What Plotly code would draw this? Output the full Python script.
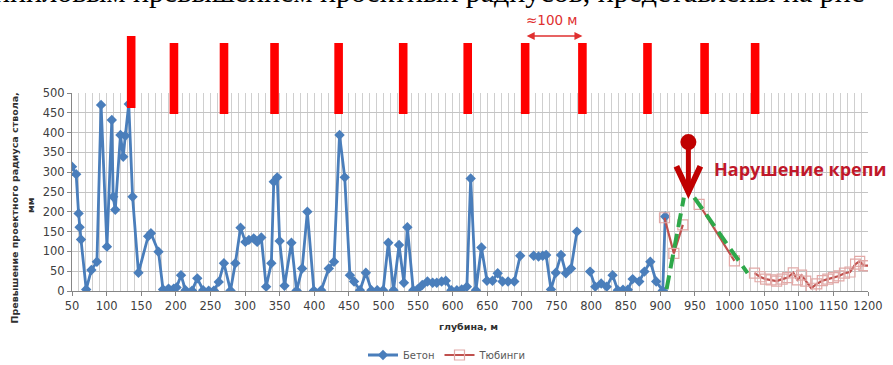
import plotly.graph_objects as go

# ---------------- data ----------------
beton_depth = [50, 56, 59.5, 61, 63, 70.5, 78, 86, 92, 100.5, 107.5, 109.5, 112.5, 120, 124, 127, 132, 137.5,
               146, 160, 164, 175, 181.5, 189.5, 197, 201, 207.5, 214, 223.5, 231, 239.5, 247.5, 255, 262,
               269.5, 279, 286, 293.5, 300.5, 305.5, 312.5, 317.5, 323.5, 330.5, 338, 341.5, 346.5, 350,
               357, 367, 374.5, 382.5, 390, 399.5, 410, 421, 428.5, 436.5, 444, 451.5, 457.5, 466, 474.5,
               482.5, 491, 499.5, 507, 514.5, 522.5, 529.5, 534.5, 543, 549, 556, 563.5, 571, 577, 584,
               590, 598, 606, 613, 620.5, 626, 633.5, 641.5, 649.5, 657.5, 665, 672, 680, 689, 697.5,
               707, 717, 724, 730, 735, 742, 749, 756.5, 763.5, 771, 779.5, 789, 798.5, 806, 814.5,
               822.5, 831, 838.5, 846, 853, 860, 869.5, 877, 885.5, 894, 903.5, 907]
beton_value = [314, 295, 196, 161, 130, 4, 53, 74, 470, 112, 432, 238, 205, 394, 339, 392, 472, 238,
               46, 138, 146, 99, 4, 6, 6, 9, 40, 2, 1, 32, 2, 1, 1, 23,
               70, 1, 70, 160, 124, 129, 133, 124, 135, 11, 70, 276, 287, 126,
               13, 122, 1, 57, 200, 1, 2, 57, 74, 394, 287, 40, 24, 2, 46,
               2, 2, 2, 122, 2, 116, 21, 161, 2, 4, 15, 24, 21, 21, 24,
               26, 2, 2, 4, 11, 284, 2, 110, 26, 26, 45, 24, 24, 24, 89,
               None, 89, 87, 89, 91, 4, 46, 91, 45, 57, 150, None, 49, 11, 19,
               11, 40, 2, 3, 3, 30, 24, 49, 74, 24, 1, 188]

tub_depth = [906, 919.5, 932.5, 944, 956, 1007, 1021, 1036, 1044, 1052, 1060, 1068, 1076, 1084, 1092, 1098,
             1104, 1110, 1118, 1126, 1134, 1142, 1150, 1158, 1166, 1174, 1182, 1188, 1194, 1200]
tub_value = [185, 95, 167, None, 219, 76, None, 45, 36, 30, 28, 25, 30, 34, 46, 28,
             40, 25, 7, 18, 26, 30, 34, 38, 45, 48, 68, 75, 64, 64]

x_ticks = list(range(50, 1201, 50))
y_ticks = list(range(0, 501, 50))

# red marks above the chart (depths, m)
bar_depths = [135.5, 197.3, 269.6, 342.6, 435.2, 528.5, 621.7, 704.7, 787.4, 881.4, 963.9, 1036.9]

# green dashed trend lines (depth, mm)
green_left_depth = [909, 934]
green_left_value = [5, 236]
green_right_depth = [949, 1026]
green_right_value = [236, 45]

# ---------------- layout geometry ----------------
W, H = 893, 365
L, R, T, B = 72, 25, 93, 74
XMIN, XMAX = 50, 1200
YMIN, YMAX = 0, 500
plot_w = W - L - R
plot_h = H - T - B
px_per_m = plot_w / (XMAX - XMIN)
px_per_mm = plot_h / (YMAX - YMIN)


def paper_x(m):
    return (m - XMIN) / (XMAX - XMIN)


def paper_from_px_y(py):
    return (H - B - py) / plot_h


def paper_from_px_x(px):
    return (px - L) / plot_w


BLUE = "#4A7EBB"
RED_LINE = "#C0504D"
PINK = "#E2A9A7"
GREEN = "#2EA84A"
DARK_RED = "#C00000"
TICK_FONT = dict(family="DejaVu Sans", size=11.5, color="#404040")

fig = go.Figure()

fig.add_trace(go.Scatter(
    x=beton_depth, y=beton_value, name="Бетон", mode="lines+markers",
    line=dict(color=BLUE, width=2.8), marker=dict(symbol="diamond", size=8, color=BLUE),
    connectgaps=False))

fig.add_trace(go.Scatter(
    x=tub_depth, y=tub_value, name="Тюбинги", mode="lines+markers",
    line=dict(color=RED_LINE, width=2.2),
    marker=dict(symbol="square-open", size=10, color=PINK, line=dict(width=1.2, color=PINK)),
    connectgaps=False))

for gx, gy in ((green_left_depth, green_left_value), (green_right_depth, green_right_value)):
    fig.add_trace(go.Scatter(x=gx, y=gy, mode="lines", showlegend=False, hoverinfo="skip",
                             line=dict(color=GREEN, width=4, dash="14px,7px")))

shapes = []
# red bars above plot
for i, d in enumerate(bar_depths):
    top_px, bot_px = (36, 108) if i == 0 else (43, 114)
    half = 4.3 / plot_w
    shapes.append(dict(type="rect", xref="paper", yref="paper",
                       x0=paper_x(d) - half, x1=paper_x(d) + half,
                       y0=paper_from_px_y(bot_px), y1=paper_from_px_y(top_px),
                       fillcolor="#FF0000", line=dict(width=0), layer="above"))

# big red arrow
arrow_x = 940.5
circle_v = 376
stem_end_v = 262
tip_v = 250
arm_v = 315
arm_dx = 12 / px_per_m
shapes.append(dict(type="line", xref="x", yref="y", x0=arrow_x, x1=arrow_x, y0=circle_v, y1=stem_end_v,
                   line=dict(color=DARK_RED, width=5)))
shapes.append(dict(type="path", xref="x", yref="y",
                   path=f"M {arrow_x - arm_dx},{arm_v} L {arrow_x},{tip_v} L {arrow_x + arm_dx},{arm_v}",
                   line=dict(color=DARK_RED, width=6)))
shapes.append(dict(type="circle", xref="x", yref="y", xsizemode="pixel", ysizemode="pixel",
                   xanchor=arrow_x, yanchor=circle_v, x0=-8, x1=8, y0=-8, y1=8,
                   fillcolor=DARK_RED, line=dict(width=0)))

annotations = [
    # ≈100 м double arrow
    dict(xref="x", yref="paper", x=bar_depths[8], y=paper_from_px_y(36),
         axref="x", ax=bar_depths[7], ayref="pixel", ay=0, text="", showarrow=True,
         arrowside="end+start", arrowhead=2, arrowsize=1, arrowwidth=1.6, arrowcolor="#E03030"),
    dict(xref="paper", yref="paper", x=paper_from_px_x(552), y=paper_from_px_y(20),
         text="≈100 м", showarrow=False, font=dict(family="DejaVu Sans", size=13.5, color="#E03030"),
         xanchor="center", yanchor="middle"),
    dict(xref="x", yref="paper", x=975, y=paper_from_px_y(169), text="<b>Нарушение крепи</b>",
         showarrow=False, xanchor="left", yanchor="middle",
         font=dict(family="Open Sans", size=18, color="#C0182A")),
    # axis titles
    dict(xref="paper", yref="paper", x=paper_from_px_x(468), y=paper_from_px_y(326),
         text="<b>глубина, м</b>", showarrow=False, xanchor="center", yanchor="middle",
         font=dict(family="DejaVu Sans", size=9.5, color="#303030")),
    dict(xref="paper", yref="paper", x=paper_from_px_x(13.5), y=paper_from_px_y(208),
         text="<b>Превышение проектного радиуса ствола,</b>", showarrow=False, textangle=-90,
         xanchor="center", yanchor="middle", font=dict(family="DejaVu Sans", size=9.5, color="#303030")),
    dict(xref="paper", yref="paper", x=paper_from_px_x(30), y=paper_from_px_y(205),
         text="<b>мм</b>", showarrow=False, textangle=-90,
         xanchor="center", yanchor="middle", font=dict(family="DejaVu Sans", size=9.5, color="#303030")),
    # cut-off document text at very top
    dict(xref="paper", yref="paper", x=paper_from_px_x(-8), y=paper_from_px_y(-8),
         text="иниловым превышением проектных радиусов, представлены на рис", showarrow=False,
         xanchor="left", yanchor="middle", font=dict(family="Liberation Serif", size=30, color="#000000")),
]

fig.update_layout(
    width=W, height=H, margin=dict(l=L, r=R, t=T, b=B, autoexpand=False),
    plot_bgcolor="white", paper_bgcolor="white",
    shapes=shapes, annotations=annotations,
    showlegend=True,
    legend=dict(orientation="h", x=paper_from_px_x(447), y=paper_from_px_y(355),
                xanchor="center", yanchor="middle",
                font=dict(family="DejaVu Sans", size=10, color="#595959"),
                itemwidth=30, tracegroupgap=0, bgcolor="rgba(0,0,0,0)"),
    xaxis=dict(range=[XMIN, XMAX], tickmode="array", tickvals=x_ticks, ticktext=[str(t) for t in x_ticks],
               showgrid=True, gridcolor="#CFCFCF", gridwidth=1,
               minor=dict(dtick=10, tick0=50, showgrid=True, gridcolor="#CFCFCF", gridwidth=1, ticks=""),
               ticks="outside", ticklen=4, tickcolor="#868686", showline=True, linecolor="#868686",
               zeroline=False, tickfont=TICK_FONT, fixedrange=True),
    yaxis=dict(range=[YMIN, YMAX], tickmode="array", tickvals=y_ticks, ticktext=[str(t) for t in y_ticks],
               showgrid=True, gridcolor="#C4C4C4", gridwidth=1,
               ticks="outside", ticklen=4, tickcolor="#868686", showline=True, linecolor="#868686",
               zeroline=False, tickfont=TICK_FONT, fixedrange=True),
)

fig.write_html("out.html", config={"displayModeBar": False},
               post_script="document.body.style.margin='0px';document.body.style.overflow='hidden';")
